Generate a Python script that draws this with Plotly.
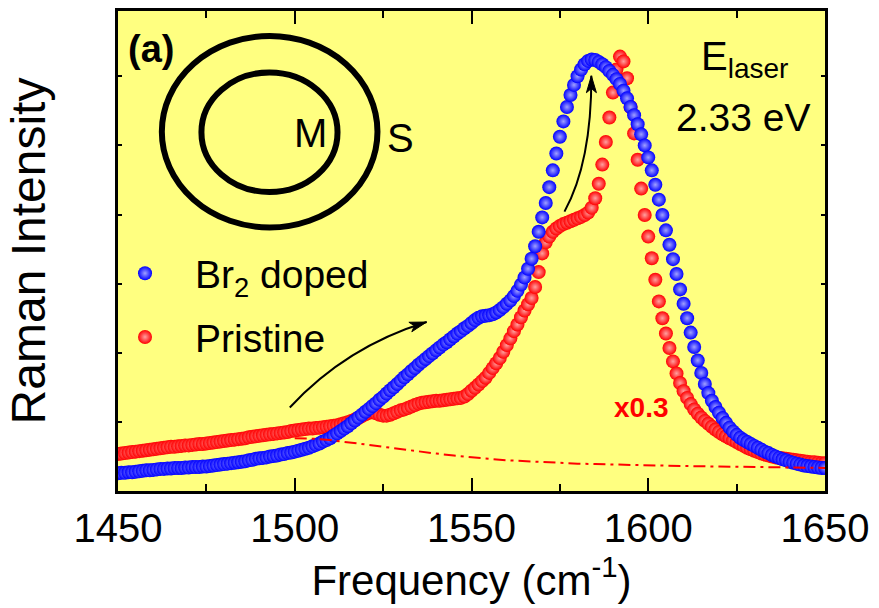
import plotly.graph_objects as go

# Raman G-band spectra, 1 cm^-1 steps
freq = list(range(1450, 1651))

pristine = [
    7.7, 7.8, 7.9, 8.0, 8.1, 8.2, 8.3, 8.4, 8.5, 8.6,
    8.7, 8.8, 8.9, 9.0, 9.1, 9.2, 9.2, 9.3, 9.4, 9.5,
    9.5, 9.6, 9.7, 9.8, 9.8, 9.9, 10.0, 10.1, 10.2, 10.3,
    10.4, 10.5, 10.6, 10.7, 10.8, 10.9, 11.0, 11.2, 11.3, 11.4,
    11.5, 11.6, 11.7, 11.8, 11.9, 12.0, 12.1, 12.2, 12.3, 12.5,
    12.6, 12.7, 12.8, 12.9, 13.0, 13.0, 13.1, 13.2, 13.3, 13.4,
    13.5, 13.6, 13.7, 13.9, 14.1, 14.3, 14.6, 14.9, 15.2, 15.6,
    16.0, 16.3, 16.4, 16.2, 15.9, 15.7, 15.7, 15.9, 16.2, 16.5,
    16.8, 17.0, 17.3, 17.6, 17.9, 18.2, 18.4, 18.5, 18.6, 18.7,
    18.8, 18.8, 18.9, 19.0, 19.1, 19.2, 19.3, 19.4, 19.7, 20.2,
    20.9, 21.5, 22.2, 22.9, 23.6, 24.6, 25.6, 26.6, 27.7, 29.0,
    30.4, 31.8, 33.3, 34.7, 36.2, 37.6, 38.9, 40.2, 42.5, 45.6,
    49.5, 51.8, 53.0, 54.0, 54.7, 55.2, 55.6, 55.9, 56.2, 56.5,
    56.8, 57.1, 57.5, 58.0, 59.0, 61.0, 64.0, 68.0, 72.7, 77.8,
    83.0, 87.8, 90.5, 89.5, 86.0, 80.0, 74.5, 69.0, 63.0, 57.5,
    53.0, 48.5, 44.0, 39.5, 36.0, 32.8, 29.8, 27.0, 24.5, 22.5,
    20.8, 19.4, 18.1, 17.0, 16.1, 15.3, 14.6, 14.0, 13.4, 12.8,
    12.3, 11.8, 11.4, 11.0, 10.6, 10.2, 9.8, 9.4, 9.0, 8.7,
    8.4, 8.1, 7.8, 7.6, 7.4, 7.2, 7.0, 6.9, 6.8, 6.7,
    6.6, 6.5, 6.4, 6.3, 6.2, 6.1, 6.0, 6.0, 5.9, 5.8,
    5.8,
]

br2_doped = [
    3.7, 3.8, 3.8, 3.9, 3.9, 4.0, 4.1, 4.2, 4.3, 4.3,
    4.4, 4.5, 4.6, 4.6, 4.7, 4.7, 4.8, 4.8, 4.8, 4.9,
    4.9, 5.0, 5.0, 5.0, 5.1, 5.1, 5.2, 5.3, 5.4, 5.5,
    5.6, 5.7, 5.8, 5.9, 6.0, 6.1, 6.2, 6.4, 6.5, 6.7,
    6.8, 6.9, 7.0, 7.2, 7.3, 7.4, 7.6, 7.7, 7.9, 8.0,
    8.2, 8.4, 8.6, 8.8, 9.0, 9.3, 9.6, 9.9, 10.3, 10.6,
    11.0, 11.5, 12.0, 12.5, 13.0, 13.5, 14.1, 14.7, 15.3, 15.9,
    16.5, 17.1, 17.7, 18.3, 19.0, 19.6, 20.3, 21.0, 21.6, 22.3,
    23.0, 23.7, 24.3, 25.0, 25.6, 26.3, 26.9, 27.5, 28.1, 28.7,
    29.3, 29.9, 30.5, 31.0, 31.6, 32.2, 32.8, 33.3, 33.9, 34.4,
    35.0, 35.6, 36.1, 36.4, 36.5, 36.6, 36.8, 37.2, 37.7, 38.3,
    39.0, 39.7, 40.6, 41.7, 43.0, 44.5, 46.3, 48.4, 51.0, 54.0,
    57.0, 60.0, 63.3, 66.8, 70.3, 73.8, 77.0, 80.0, 82.5, 84.6,
    86.4, 87.8, 88.9, 89.6, 89.9, 89.8, 89.4, 88.9, 88.3, 87.5,
    86.7, 85.8, 84.8, 83.4, 81.8, 80.0, 78.3, 76.4, 74.3, 72.0,
    69.5, 66.8, 63.8, 60.7, 57.5, 54.3, 51.3, 48.3, 45.2, 42.0,
    39.0, 36.0, 33.0, 30.0, 27.2, 24.6, 22.3, 20.4, 18.8, 17.5,
    16.3, 15.2, 14.2, 13.2, 12.4, 11.7, 11.1, 10.6, 10.2, 9.8,
    9.4, 9.0, 8.6, 8.2, 7.9, 7.5, 7.2, 6.9, 6.6, 6.4,
    6.1, 5.9, 5.7, 5.5, 5.3, 5.2, 5.1, 5.0, 4.9, 4.8,
    4.8,
]

# background of the pristine spectrum (dash-dot)
base_freq = [1500, 1505, 1510, 1515, 1520, 1525, 1530, 1535, 1540, 1545,
             1550, 1555, 1560, 1565, 1570, 1575, 1580, 1585, 1590, 1595,
             1600, 1610, 1620, 1630, 1640, 1650]
base_val = [11.0, 10.9, 10.6, 10.2, 9.7, 9.2, 8.7, 8.2, 7.8, 7.4,
            7.0, 6.7, 6.4, 6.2, 6.0, 5.85, 5.7, 5.6, 5.5, 5.4,
            5.3, 5.2, 5.1, 5.0, 4.9, 4.8]

x_ticks = [1450, 1500, 1550, 1600, 1650]

W, H = 879, 608
ML, MR, MT, MB = 118, 54, 8, 117
X_RANGE = [1450, 1650]
Y_RANGE = [0, 100]
PX_X = (W - ML - MR) / (X_RANGE[1] - X_RANGE[0])   # px per cm^-1
PX_Y = (H - MT - MB) / (Y_RANGE[1] - Y_RANGE[0])   # px per intensity unit

FONT = "Liberation Sans, Arial, sans-serif"
BLUE, RED = "#0000ff", "#ff0000"

fig = go.Figure()

fig.add_trace(go.Scatter(
    x=freq, y=pristine, mode="markers", name="Pristine",
    legendrank=2, legendgroup="pristine",
    marker=dict(size=14, color=RED, line=dict(width=0),
                gradient=dict(type="radial", color="#ffa0a0")),
))
fig.add_trace(go.Scatter(
    x=freq, y=br2_doped, mode="markers", name="Br<sub>2</sub> doped",
    legendrank=1, legendgroup="doped",
    marker=dict(size=14, color=BLUE, line=dict(width=0),
                gradient=dict(type="radial", color="#a0a0ff")),
))
fig.add_trace(go.Scatter(
    x=base_freq, y=base_val, mode="lines", showlegend=False,
    line=dict(color=RED, width=2, dash="12px,5px,3px,5px"),
))


def curved_arrow(p0, ctrl, p1, head_len=17, head_w=10):
    """Quadratic curve in data units plus a filled stealth head at p1."""
    shapes = [dict(
        type="path", xref="x", yref="y",
        path=f"M {p0[0]},{p0[1]} Q {ctrl[0]},{ctrl[1]} {p1[0]},{p1[1]}",
        line=dict(color="black", width=2),
    )]
    # direction of the tangent at the tip, in screen pixels
    dx = (p1[0] - ctrl[0]) * PX_X
    dy = (p1[1] - ctrl[1]) * PX_Y
    n = (dx * dx + dy * dy) ** 0.5
    ux, uy = dx / n, dy / n
    px, py = -uy, ux

    def pt(along, side):
        return (p1[0] + (along * ux + side * px) / PX_X,
                p1[1] + (along * uy + side * py) / PX_Y)

    tip = pt(0, 0)
    b1 = pt(-head_len, head_w / 2)
    notch = pt(-head_len * 0.75, 0)
    b2 = pt(-head_len, -head_w / 2)
    shapes.append(dict(
        type="path", xref="x", yref="y",
        path=(f"M {tip[0]},{tip[1]} L {b1[0]},{b1[1]} L {notch[0]},{notch[1]} "
              f"L {b2[0]},{b2[1]} Z"),
        fillcolor="black", line=dict(color="black", width=1),
    ))
    return shapes


shapes = []
# nested tube sketch: outer shell S and inner shell M
shapes.append(dict(type="circle", xref="x", yref="y",
                   x0=1462.4, x1=1523.4, y0=54.9, y1=94.8,
                   line=dict(color="black", width=6)))
shapes.append(dict(type="circle", xref="x", yref="y",
                   x0=1473.6, x1=1512.1, y0=62.3, y1=87.2,
                   line=dict(color="black", width=6)))
shapes += curved_arrow((1498.6, 17.4), (1514.6, 30.1), (1537.3, 35.2))
shapes += curved_arrow((1576.3, 58.2), (1584.0, 68.5), (1583.9, 86.5))

annotations = [
    dict(x=1452.3, y=92.0, xref="x", yref="y", xanchor="left", yanchor="middle",
         text="<b>(a)</b>", showarrow=False, font=dict(size=38)),
    dict(x=1504.5, y=74.5, xref="x", yref="y", text="M", showarrow=False,
         font=dict(size=40)),
    dict(x=1530.0, y=73.5, xref="x", yref="y", text="S", showarrow=False,
         font=dict(size=40)),
    dict(x=1614.4, y=90.0, xref="x", yref="y", xanchor="left", yanchor="middle",
         text="E<sub>laser</sub>", showarrow=False, font=dict(size=40)),
    dict(x=1626.8, y=77.8, xref="x", yref="y", text="2.33 eV", showarrow=False,
         font=dict(size=39)),
    dict(x=1598.0, y=17.4, xref="x", yref="y", text="<b>x0.3</b>", showarrow=False,
         font=dict(size=28, color=RED)),
]

fig.update_layout(
    width=W, height=H,
    margin=dict(l=ML, r=MR, t=MT, b=MB, pad=0),
    paper_bgcolor="white", plot_bgcolor="#ffff80",
    font=dict(family=FONT, color="black"),
    shapes=shapes, annotations=annotations,
    showlegend=True,
    legend=dict(x=-0.0325, y=0.52, xanchor="left", yanchor="top",
                bgcolor="rgba(0,0,0,0)", font=dict(size=39),
                itemsizing="trace", itemwidth=90,
                traceorder="grouped", tracegroupgap=10),
)
fig.update_xaxes(
    range=X_RANGE, tickvals=x_ticks, ticks="inside", ticklen=13, tickwidth=2,
    tickcolor="black", showline=True, linewidth=3, linecolor="black",
    mirror="ticks", showgrid=False, zeroline=False,
    tickfont=dict(size=40),
    minor=dict(dtick=25, tick0=1450, ticks="inside", ticklen=7, tickwidth=2,
               tickcolor="black", showgrid=False),
    title=dict(text="Frequency (cm<sup>-1</sup>)", font=dict(size=42), standoff=10),
)
fig.update_yaxes(
    range=Y_RANGE, tick0=0, dtick=14.4, ticks="inside", ticklen=4, tickwidth=1.5,
    tickcolor="black", showticklabels=False, showline=True, linewidth=3,
    linecolor="black", mirror="ticks", showgrid=False, zeroline=False,
    title=dict(text="Raman Intensity", font=dict(size=48), standoff=55),
)

fig.write_html("out.html")
